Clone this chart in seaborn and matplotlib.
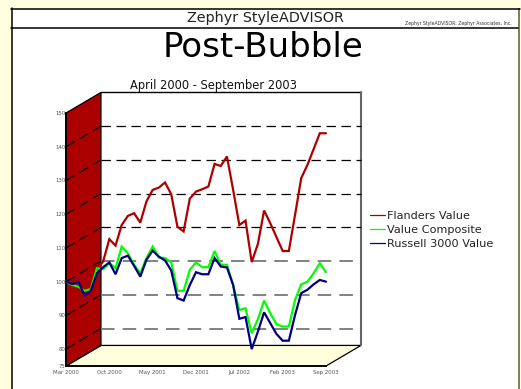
import matplotlib
matplotlib.use("Agg")
import matplotlib.pyplot as plt
from matplotlib.patches import Polygon, Rectangle
from matplotlib.lines import Line2D
import pandas as pd
import seaborn as sns

months = list(range(43))
flanders = [100, 99.5, 99, 97, 98, 103.5, 106, 112.6, 110.7, 116.8, 119.5, 120.3, 117.5, 123.8,
            127.2, 127.9, 129.4, 125.9, 116.3, 114.9, 124.6, 126.7, 127.4, 128.2, 134.9, 134.3,
            137.1, 127.2, 116.8, 118.1, 105.8, 111.2, 121.1, 117.3, 113.2, 109.1, 109.1, 119.8,
            130.7, 134.6, 139.3, 144, 144]
composite = [100, 99, 98.5, 97.3, 97.8, 104, 103.7, 105.5, 104, 110.4, 108.4, 105, 102.5, 107,
             110.4, 107.2, 107, 105.7, 97.3, 97.3, 103.5, 105.7, 104.3, 104.3, 109.1, 105, 105,
             99, 91.6, 92.1, 84.7, 88.9, 94.4, 90.6, 87.4, 86.7, 86.7, 94.6, 99.2, 100, 102.5,
             105.5, 102.8]
russell = [100, 99.3, 100, 95.9, 97.3, 102.5, 104.3, 105.7, 102.2, 107, 107.7, 104.7, 101.5, 106.5,
           109.2, 107.4, 106.3, 103.3, 95.1, 94.4, 99, 102.8, 102.2, 102.2, 107, 104.5, 104.2,
           99, 89, 89.5, 80, 85.2, 90.9, 87.7, 84.5, 82.5, 82.5, 90.1, 96.6, 97.6, 99.2, 100.5, 100]
series_names = ["Flanders Value", "Value Composite", "Russell 3000 Value"]
series_colors = ["#AE0000", "#00FF00", "#000080"]
x_ticks = [0, 7, 14, 21, 28, 35, 42]
x_labels = ["Mar 2000", "Oct 2000", "May 2001", "Dec 2001", "Jul 2002", "Feb 2003", "Sep 2003"]
y_ticks = [75, 80, 90, 100, 110, 120, 130, 140, 150]
y_grid = [80, 90, 100, 110, 120, 130, 140]

W, H = 521, 389
sns.set_theme(style="white")
plt.rcParams["font.family"] = ["DejaVu Sans"]
fig = plt.figure(figsize=(W / 100, H / 100), dpi=100, facecolor="#FFFFE0")


def px_rect(x, y, w, h):
    """Figure fraction box from top-left pixel coordinates."""
    return [x / W, 1 - (y + h) / H, w / W, h / H]


# page panel and header rules
page = fig.add_axes([0, 0, 1, 1], zorder=0)
page.set_xlim(0, W)
page.set_ylim(H, 0)
page.axis("off")
page.add_patch(Rectangle((518, 8), 2, H, fc="#808060", ec="none"))
page.add_patch(Rectangle((11, 8), 507, H, fc="white", ec="none"))
page.plot([11, 520], [8.5, 8.5], color="black", lw=1.1)
page.plot([11.5, 11.5], [8, H], color="black", lw=1.1)
page.plot([11, 518], [27.5, 27.5], color="black", lw=1.1)
page.text(265.5, 18, "Zephyr StyleADVISOR", ha="center", va="center", fontsize=10.4, color="#222222")
page.text(512, 23.5, "Zephyr StyleADVISOR: Zephyr Associates, Inc.", ha="right", va="center",
          fontsize=3.3, color="#333333")
page.text(262.5, 47.5, "Post-Bubble", ha="center", va="center", fontsize=24.5, color="black")
page.text(213, 85, "April 2000 - September 2003", ha="center", va="center", fontsize=8.3,
          color="#111111")

# front plane of the box: values and months share this scale
ax = fig.add_axes(px_rect(66, 113, 260, 253), zorder=1)
ax.set_xlim(0, 42)
ax.set_ylim(75, 150)
ax.patch.set_alpha(0)
for side in ["top", "right"]:
    ax.spines[side].set_visible(False)
for side in ["left", "bottom"]:
    ax.spines[side].set_linewidth(1.3)
    ax.spines[side].set_color("black")

# depth of the box expressed in axis units
dx, dy = 5.65, 6.1
xmin, xmax, ymin, ymax = 0, 42, 75, 150
ax.add_patch(Polygon([(xmin + dx, ymin + dy), (xmax + dx, ymin + dy), (xmax + dx, ymax + dy),
                      (xmin + dx, ymax + dy)], closed=True, fc="white", ec="none",
                     clip_on=False, zorder=0.5))
ax.add_patch(Polygon([(xmin, ymin), (xmin + dx, ymin + dy), (xmax + dx, ymin + dy), (xmax, ymin)],
                     closed=True, fc="#FFFFDC", ec="black", lw=0.9, clip_on=False, zorder=0.6))
ax.add_patch(Polygon([(xmin, ymin), (xmin + dx, ymin + dy), (xmin + dx, ymax + dy), (xmin, ymax)],
                     closed=True, fc="#AA0000", ec="black", lw=0.9, clip_on=False, zorder=0.7))
ax.plot([xmin + dx, xmax + dx], [ymax + dy, ymax + dy], color="black", lw=1, clip_on=False, zorder=0.8)
ax.plot([xmax + dx, xmax + dx], [ymin + dy, ymax + dy], color="#666666", lw=1.5, clip_on=False, zorder=0.8)

# dashed gridlines across the side and back walls
for v in y_grid:
    dark = v >= 110
    ax.plot([xmin, xmin + dx], [v, v + dy], color="black", lw=0.9, dashes=(8, 4.5),
            clip_on=False, zorder=0.9)
    ax.plot([xmin + dx, xmax + dx], [v + dy, v + dy], color="black" if dark else "#777777",
            lw=0.9 if dark else 1.3, dashes=(7.5, 4.5), clip_on=False, zorder=0.9)

# performance series, last drawn on top
frame = pd.DataFrame({"month": months, series_names[0]: flanders,
                      series_names[1]: composite, series_names[2]: russell})
for name, color in zip(series_names, series_colors):
    sns.lineplot(data=frame, x="month", y=name, color=color, lw=1.6, ax=ax, zorder=3,
                 clip_on=False, solid_joinstyle="miter", legend=False)

ax.set_xlabel("")
ax.set_ylabel("")
ax.set_xticks(x_ticks, x_labels)
ax.set_yticks(y_ticks, [str(t) for t in y_ticks])
ax.tick_params(axis="x", direction="in", length=3.5, width=0.8, color="black", labelsize=3.9,
               labelcolor="#555555", pad=3, bottom=True)
ax.tick_params(axis="y", length=0, labelsize=3.9, labelcolor="#555555", pad=0.2, left=False)

handles = [Line2D([], [], color=c, lw=0.9) for c in series_colors]
fig.legend(handles, series_names, loc="upper left", bbox_to_anchor=(370 / W, 1 - 211 / H), frameon=False,
           fontsize=8.15, labelcolor="#222222", handlelength=1.3, handletextpad=0.2, labelspacing=0.37,
           borderpad=0, borderaxespad=0)

fig.savefig("out.png", dpi=100, facecolor=fig.get_facecolor())
